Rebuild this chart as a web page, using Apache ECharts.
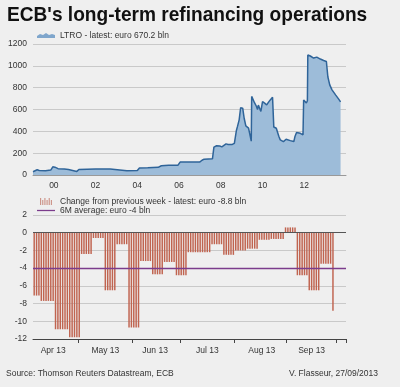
<!DOCTYPE html>
<html><head><meta charset="utf-8">
<script src="https://cdn.jsdelivr.net/npm/echarts@6/dist/echarts.min.js"></script>
<style>html,body{margin:0;padding:0;background:#efefef}#c{width:400px;height:387px}</style>
</head><body><div id="c"></div>
<script>
// ---------- Top panel: LTRO outstanding (euro bln) ----------
const ltroYears = [1999.00,1999.05,1999.2,1999.25,1999.3,1999.6,1999.85,1999.95,2000.05,2000.2,2000.5,2000.7,2000.75,2001.1,2001.2,2001.25,2002.0,2002.7,2002.75,2003.5,2004.0,2004.1,2004.5,2005.0,2005.15,2005.5,2005.95,2006.05,2006.5,2007.0,2007.1,2007.2,2007.6,2007.67,2007.8,2007.95,2008.05,2008.25,2008.35,2008.55,2008.65,2008.72,2008.75,2008.8,2008.88,2008.95,2009.05,2009.12,2009.2,2009.33,2009.42,2009.46,2009.48,2009.55,2009.62,2009.7,2009.76,2009.8,2009.86,2009.92,2009.97,2010.0,2010.1,2010.2,2010.28,2010.37,2010.48,2010.52,2010.54,2010.66,2010.74,2010.78,2010.85,2010.93,2011.0,2011.13,2011.33,2011.5,2011.55,2011.63,2011.81,2011.94,2011.97,2012.05,2012.1,2012.15,2012.17,2012.29,2012.45,2012.6,2012.77,2012.93,2013.06,2013.1,2013.13,2013.22,2013.33,2013.5,2013.65,2013.74];
const ltroValues = [30,45,48,60,42,40,45,75,72,58,55,50,35,33,50,55,55,55,40,40,42,65,67,70,85,90,90,118,120,120,135,145,148,255,268,265,258,285,280,280,290,292,410,445,505,615,612,520,450,430,412,310,720,708,660,632,600,640,645,582,585,672,658,642,665,688,712,712,440,428,412,355,322,338,306,328,315,306,350,390,382,368,688,694,660,680,1100,1090,1071,1080,1062,1049,1040,960,900,826,780,734,695,670.2];
const topYearTicks = [2000,2002,2004,2006,2008,2010,2012];

// ---------- Bottom panel: change from previous week (euro bln), business days from 4 Apr 2013 ----------
const changeValues = [
 -7.1,-7.1,-7.1,
 -7.7,-7.7,-7.7,-7.7,-7.7,-7.7,
 -10.9,-10.9,-10.9,-10.9,-10.9,-10.9,
 -11.8,-11.8,-11.8,-11.8,-11.8,
 -2.4,-2.4,-2.4,-2.4,-2.4,
 -0.6,-0.6,-0.6,-0.6,-0.6,
 -6.5,-6.5,-6.5,-6.5,-6.5,
 -1.3,-1.3,-1.3,-1.3,-1.3,
 -10.7,-10.7,-10.7,-10.7,-10.7,
 -3.2,-3.2,-3.2,-3.2,-3.2,
 -4.7,-4.7,-4.7,-4.7,-4.7,
 -3.3,-3.3,-3.3,-3.3,-3.3,
 -4.8,-4.8,-4.8,-4.8,-4.8,
 -2.2,-2.2,-2.2,-2.2,-2.2,-2.2,-2.2,-2.2,-2.2,-2.2,
 -1.3,-1.3,-1.3,-1.3,-1.3,
 -2.5,-2.5,-2.5,-2.5,-2.5,
 -2.0,-2.0,-2.0,-2.0,-2.0,
 -1.8,-1.8,-1.8,-1.8,-1.8,
 -0.8,-0.8,-0.8,-0.8,-0.8,
 -0.7,-0.7,-0.7,-0.7,-0.7,-0.7,
 0.6,0.6,0.6,0.6,0.6,
 -4.8,-4.8,-4.8,-4.8,-4.8,
 -6.5,-6.5,-6.5,-6.5,-6.5,
 -3.5,-3.5,-3.5,-3.5,-3.5,
 -8.8
];
const avgValue = -4;
const startDate = [2013, 3, 4];   // 4 Apr 2013
const numBusinessDays = 132;       // axis runs to 4 Oct 2013
const monthNames = ['Jan','Feb','Mar','Apr','May','Jun','Jul','Aug','Sep','Oct','Nov','Dec'];

// build business-day categories
const days = [];
{
  let t = Date.UTC(startDate[0], startDate[1], startDate[2]);
  while (days.length < numBusinessDays) {
    const d = new Date(t);
    const wd = d.getUTCDay();
    if (wd !== 0 && wd !== 6) days.push(d);
    t += 86400000;
  }
}
const cats = days.map(d => d.toISOString().slice(0,10));
// tick at first business day of each month; label at last business day on or before the 16th
const tickIdx = new Set(), labelIdx = new Set();
days.forEach((d,i) => {
  if (i > 0 && d.getUTCMonth() !== days[i-1].getUTCMonth()) tickIdx.add(i);
  const n = days[i+1];
  if (n && d.getUTCDate() <= 16 && (n.getUTCMonth() !== d.getUTCMonth() || n.getUTCDate() > 16)) labelIdx.add(i);
});
function monthLabel(i){ const d = days[i]; return monthNames[d.getUTCMonth()] + ' ' + String(d.getUTCFullYear()%100).padStart(2,'0'); }

const FONT = '"Liberation Sans", Arial, sans-serif';
const txt = {color:'#333', fontSize:8.5, fontFamily:FONT};

const chart = echarts.init(document.getElementById('c'), null, {renderer:'canvas'});
chart.setOption({
  backgroundColor:'#efefef',
  animation:false,
  legend:[
    {left:32, top:26, itemWidth:18, itemHeight:6, textStyle:txt, selectedMode:false,
     data:[{name:'LTRO - latest: euro 670.2 bln', icon:'path://M0,4 L3,2 L6,3 L9,1 L12,3 L15,2 L18,3 L18,6 L0,6 Z',
       itemStyle:{color:'#7fa6cc'}}]},
    {left:32, top:192, orient:'vertical', itemGap:0, itemWidth:18, itemHeight:7, textStyle:txt, selectedMode:false,
     data:[{name:'Change from previous week - latest: euro -8.8 bln',
            icon:'path://M0,0h1v10h-1z M3,3h1v7h-1z M6,0h1v10h-1z M9,3h1v7h-1z M12,0h1v10h-1z M15,3h1v7h-1z',
            itemStyle:{color:'#b85a48'}},
           {name:'6M average: euro -4 bln', icon:'path://M0,0h20v1.4h-20z', itemStyle:{color:'#7b3c8c'}}]}
  ],
  grid:[
    {left:33, right:54, top:44, height:131},
    {left:33, right:54, top:215, height:124}
  ],
  xAxis:[
    {type:'value', gridIndex:0, min:1999, max:2014,
     axisLine:{lineStyle:{color:'#999'}}, axisTick:{show:false}, splitLine:{show:false},
     axisLabel:{customValues:topYearTicks, formatter:v=>String(v%100).padStart(2,'0'), ...txt, margin:6}},
    {type:'category', gridIndex:1, data:cats, boundaryGap:true,
     axisLine:{onZero:false, lineStyle:{color:'#444'}},
     axisTick:{show:true, interval:(i)=>tickIdx.has(i), length:4, lineStyle:{color:'#444'}},
     axisLabel:{interval:(i)=>labelIdx.has(i), formatter:(v,i)=>monthLabel(i), ...txt, margin:7}}
  ],
  yAxis:[
    {type:'value', gridIndex:0, min:0, max:1200, interval:200,
     axisLine:{show:false}, axisTick:{show:false},
     splitLine:{lineStyle:{color:'#c9c9c9'}},
     axisLabel:{...txt, margin:6, formatter:v=>String(v)}},
    {type:'value', gridIndex:1, min:-12, max:2, interval:2,
     axisLine:{show:false}, axisTick:{show:false},
     splitLine:{lineStyle:{color:'#c9c9c9'}},
     axisLabel:{...txt, margin:6, formatter:v=>String(v)}}
  ],
  series:[
    {name:'LTRO - latest: euro 670.2 bln', type:'line', xAxisIndex:0, yAxisIndex:0,
     data:ltroYears.map((y,i)=>[y, ltroValues[i]]), symbol:'none',
     lineStyle:{color:'#2f6499', width:1.5}, itemStyle:{color:'#2f6499'},
     areaStyle:{color:'#9dbcd9', opacity:1}},
    {name:'Change from previous week - latest: euro -8.8 bln', type:'bar', xAxisIndex:1, yAxisIndex:1,
     data:changeValues, barWidth:'62%', itemStyle:{color:'#c06450'},
     markLine:{silent:true, symbol:'none', label:{show:false}, data:[{yAxis:0}],
       lineStyle:{color:'#555', width:1, type:'solid'}}},
    {name:'6M average: euro -4 bln', type:'line', xAxisIndex:1, yAxisIndex:1, data:[], symbol:'none',
     lineStyle:{color:'#7b3c8c', width:1.5}, itemStyle:{color:'#7b3c8c'},
     markLine:{silent:true, symbol:'none', label:{show:false}, data:[{yAxis:avgValue}],
       lineStyle:{color:'#7b3c8c', width:1.3, type:'solid'}}}
  ],
  graphic:[
    {type:'text', x:7, y:5, scaleX:0.91, scaleY:1,
     style:{text:"ECB's long-term refinancing operations", fill:'#111', font:'bold 21px '+FONT}},
    {type:'text', left:6, top:369, style:{text:'Source: Thomson Reuters Datastream, ECB', fill:'#333', font:'8.5px '+FONT}},
    {type:'text', right:22, top:369, style:{text:'V. Flasseur, 27/09/2013', fill:'#333', font:'8.5px '+FONT}}
  ]
});
</script></body></html>
